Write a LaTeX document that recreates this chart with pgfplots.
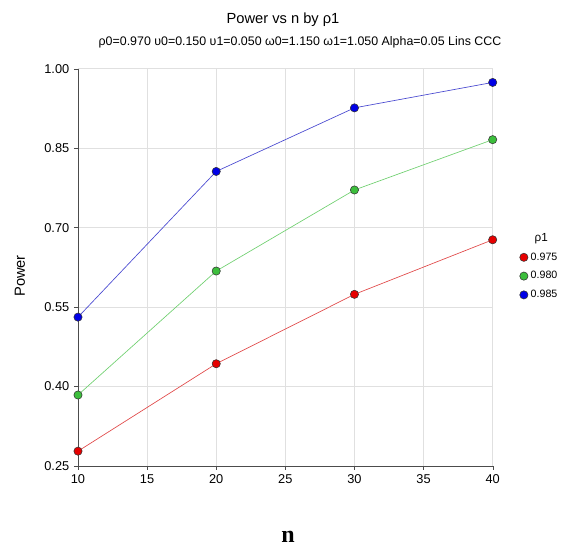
\documentclass[border=0pt]{standalone}
\usepackage{fontspec}
\setmainfont{Liberation Sans}
\newfontfamily\serifbold{Liberation Serif}
\usepackage{pgfplots}
\pgfplotsset{compat=1.18}
\definecolor{rline}{HTML}{E04848}
\definecolor{gline}{HTML}{70D070}
\definecolor{bline}{HTML}{4848D0}
\definecolor{rfill}{HTML}{E60000}
\definecolor{gfill}{HTML}{3CBE3C}
\definecolor{bfill}{HTML}{0000E6}
\begin{document}
\begin{tikzpicture}
\path (-58.5pt,-61.5pt) rectangle (369.75pt,349.5pt);
\begin{axis}[
    at={(0,0)}, anchor=origin,
    scale only axis,
    width=311pt, height=298pt,
    xmin=10, xmax=40, ymin=0.25, ymax=1.0,
    xtick={10,15,...,40},
    ytick={0.25,0.40,0.55,0.70,0.85,1.00},
    yticklabel style={/pgf/number format/.cd,fixed,fixed zerofill,precision=2},
    /pgf/number format/assume math mode=true,
    ticklabel style={font=\fontsize{9.6}{11}\selectfont},
    axis lines=left,
    axis line style={-, black!70, line width=0.6pt},
    tick align=outside,
    major tick length=3pt,
    tick style={black!70},
    grid=major,
    grid style={black!12, line width=0.5pt},
    clip=false,
    legend cell align=left,
    legend image code/.code={\draw[#1] plot coordinates {(0.1cm,0cm)};},
    legend style={draw=none, fill=none, at={(rel axis cs:1.055,0.60)}, anchor=north west,
                  font=\fontsize{8}{9}\selectfont, row sep=3pt},
    every axis plot/.append style={line width=0.5pt, mark=*, mark size=3.1pt},
]
\addlegendimage{empty legend}
\addlegendentry{\hspace{3pt}\fontsize{8.8}{10}\selectfont ρ1}
\addplot[rline, mark options={fill=rfill, draw=black!80, line width=0.4pt}]
  coordinates {(10,0.278) (20,0.443) (30,0.574) (40,0.677)};
\addlegendentry{0.975}
\addplot[gline, mark options={fill=gfill, draw=black!80, line width=0.4pt}]
  coordinates {(10,0.384) (20,0.618) (30,0.771) (40,0.866)};
\addlegendentry{0.980}
\addplot[bline, mark options={fill=bfill, draw=black!80, line width=0.4pt}]
  coordinates {(10,0.531) (20,0.806) (30,0.926) (40,0.974)};
\addlegendentry{0.985}
\end{axis}
\node at (153.75pt,335pt) {\fontsize{11}{13}\selectfont Power vs n by ρ1};
\node at (166.5pt,318pt) {\fontsize{9.3}{11}\selectfont ρ0=0.970 υ0=0.150 υ1=0.050 ω0=1.150 ω1=1.050 Alpha=0.05 Lins CCC};
\node[rotate=90] at (-43.5pt,142.5pt) {\fontsize{11}{13}\selectfont Power};
\node at (157.5pt,-53pt) {\serifbold\bfseries\fontsize{18}{20}\selectfont n};
\end{tikzpicture}
\end{document}
